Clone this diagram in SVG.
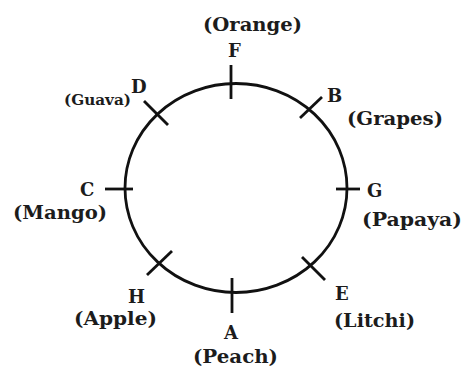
<svg xmlns="http://www.w3.org/2000/svg" width="467" height="372" viewBox="0 0 467 372">
<style>
.ring{fill:none;stroke:#111;stroke-width:2.8}
.tick{stroke:#111;stroke-width:2.8;stroke-linecap:butt}
.lbl{font-family:"DejaVu Serif","Liberation Serif",serif;font-weight:bold;font-size:18px;fill:#1c1c1c}
.fr{font-family:"DejaVu Serif","Liberation Serif",serif;font-weight:bold;font-size:18.5px;fill:#1c1c1c}
.sm{font-size:14px}
</style>
<rect width="467" height="372" fill="#fff"/>
<g id="connectors">
<ellipse class="ring" cx="236" cy="188" rx="111" ry="104.5"/>
</g>
<g id="F"><line class="tick" x1="231" y1="65" x2="231" y2="99"/><text class="lbl" x="228" y="57">F</text><text class="fr" x="203" y="31" textLength="99" lengthAdjust="spacingAndGlyphs">(Orange)</text></g>
<g id="D"><line class="tick" x1="144" y1="101" x2="168" y2="125"/><text class="lbl" x="131" y="93">D</text><text class="fr sm" x="64" y="105" textLength="67" lengthAdjust="spacingAndGlyphs">(Guava)</text></g>
<g id="B"><line class="tick" x1="300" y1="118" x2="322" y2="97"/><text class="lbl" x="327" y="102">B</text><text class="fr" x="347" y="125" textLength="96" lengthAdjust="spacingAndGlyphs">(Grapes)</text></g>
<g id="C"><line class="tick" x1="105" y1="189" x2="133" y2="189"/><text class="lbl" x="80" y="196">C</text><text class="fr" x="13" y="219" textLength="94" lengthAdjust="spacingAndGlyphs">(Mango)</text></g>
<g id="G"><line class="tick" x1="336" y1="189" x2="360" y2="189"/><text class="lbl" x="367" y="197">G</text><text class="fr" x="362" y="226" textLength="100" lengthAdjust="spacingAndGlyphs">(Papaya)</text></g>
<g id="H"><line class="tick" x1="147" y1="275" x2="172" y2="251"/><text class="lbl" x="128" y="303">H</text><text class="fr" x="74" y="325" textLength="83" lengthAdjust="spacingAndGlyphs">(Apple)</text></g>
<g id="E"><line class="tick" x1="302" y1="257" x2="325" y2="280"/><text class="lbl" x="335" y="300">E</text><text class="fr" x="334" y="327" textLength="81" lengthAdjust="spacingAndGlyphs">(Litchi)</text></g>
<g id="A"><line class="tick" x1="232" y1="278" x2="232" y2="313"/><text class="lbl" x="224" y="339">A</text><text class="fr" x="193" y="363" textLength="85" lengthAdjust="spacingAndGlyphs">(Peach)</text></g>
</svg>
